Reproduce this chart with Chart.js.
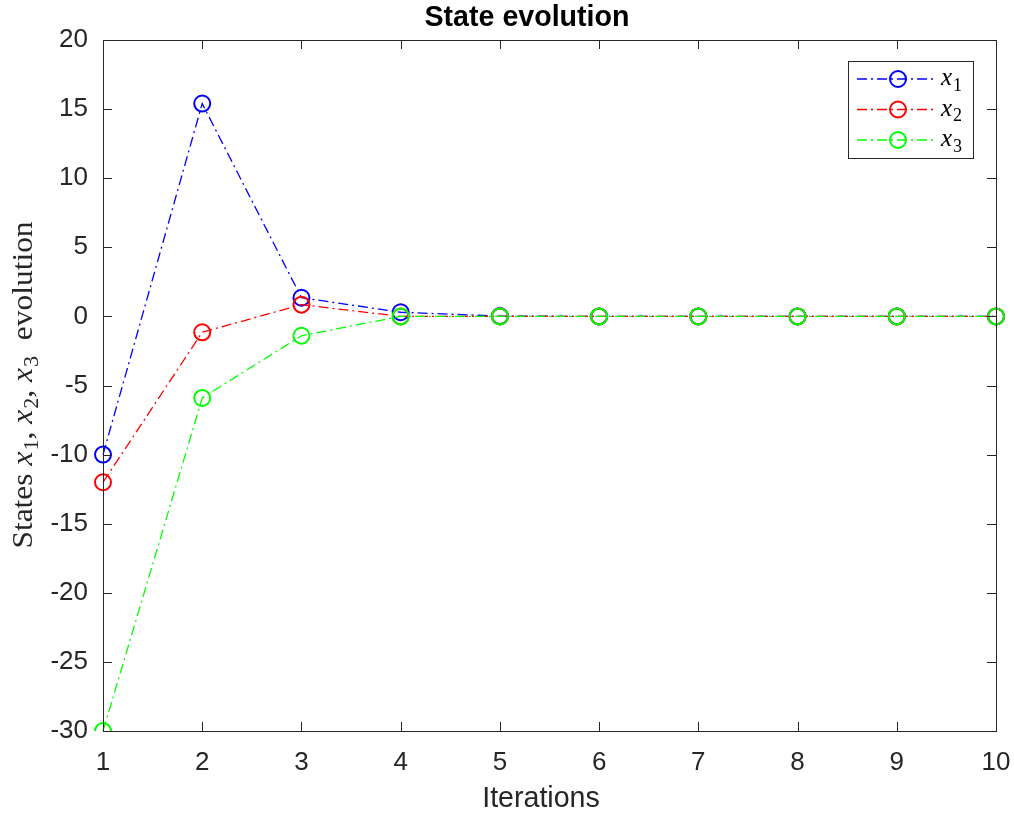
<!DOCTYPE html>
<html lang="en">
<head>
  <meta charset="UTF-8">
  <title>State evolution</title>
  <script src="https://cdn.jsdelivr.net/npm/chart.js@4/dist/chart.umd.min.js"></script>
  <style>
  html, body { margin: 0; padding: 0; background: #fff; }
  #wrap { width: 1014px; height: 814px; }
  </style>
</head>
<body>
<div id="wrap"><canvas id="myChart"></canvas></div>
<script>
    // values
    const iterations = ['1', '2', '3', '4', '5', '6', '7', '8', '9', '10'];
    const x1Values = [-10, 15.4, 1.35, 0.3, 0.02, 0, 0, 0, 0, 0];
    const x2Values = [-12, -1.15, 0.85, 0, 0, 0, 0, 0, 0, 0];
    const x3Values = [-30, -5.9, -1.4, 0, 0, 0, 0, 0, 0, 0];
    const seriesNames = ['1', '2', '3'];   // subscripts of x
    const seriesColors = ['#0000ff', '#ff0000', '#00ff00'];

    const AXIS_COLOR = '#262626';
    const DASH = [10, 4, 2, 4];
    const TICK_LEN = 9;
    const SERIF = '"Liberation Serif"';

    function setMathFont(ctx, style, size) {
      if (style === 'it') ctx.font = 'italic ' + size + 'px ' + SERIF;
      else if (style === 'sub') ctx.font = Math.round(size * 0.7) + 'px ' + SERIF;
      else ctx.font = size + 'px ' + SERIF;
    }
    function mathWidth(ctx, parts, size) {
      ctx.save();
      let w = 0;
      parts.forEach(p => { setMathFont(ctx, p.style, size); w += ctx.measureText(p.t).width + (p.style === 'it' ? 1 : 0); });
      ctx.restore();
      return w;
    }
    function drawMath(ctx, parts, x, y, size) {
      let cx = x;
      parts.forEach(p => {
        setMathFont(ctx, p.style, size);
        ctx.fillText(p.t, cx, p.style === 'sub' ? y + size * 0.22 : y);
        cx += ctx.measureText(p.t).width + (p.style === 'it' ? 1 : 0);
      });
    }

    const matlab_axes = {
      id: 'matlab_axes',
      afterDraw: (chart) => {
        const ctx = chart.ctx;
        const {left, right, top, bottom} = chart.chartArea;
        const xs = chart.scales.x, ys = chart.scales.y;
        ctx.save();
        ctx.strokeStyle = AXIS_COLOR;
        ctx.lineWidth = 1;
        ctx.setLineDash([]);
        ctx.strokeRect(Math.round(left) + 0.5, Math.round(top) + 0.5,
                       Math.round(right - left), Math.round(bottom - top));
        ctx.beginPath();
        xs.ticks.forEach((t, i) => {
          const px = Math.round(xs.getPixelForTick(i)) + 0.5;
          ctx.moveTo(px, bottom); ctx.lineTo(px, bottom - TICK_LEN);
          ctx.moveTo(px, top); ctx.lineTo(px, top + TICK_LEN);
        });
        ys.ticks.forEach((t, i) => {
          const py = Math.round(ys.getPixelForTick(i)) + 0.5;
          ctx.moveTo(left, py); ctx.lineTo(left + TICK_LEN, py);
          ctx.moveTo(right, py); ctx.lineTo(right - TICK_LEN, py);
        });
        ctx.stroke();

        // title
        ctx.fillStyle = '#000';
        ctx.font = 'bold 28.6px "Liberation Sans"';
        ctx.textAlign = 'center';
        ctx.textBaseline = 'alphabetic';
        ctx.fillText('State evolution', 527, 26);

        // x axis title
        ctx.fillStyle = AXIS_COLOR;
        ctx.font = '28.6px "Liberation Sans"';
        ctx.fillText('Iterations', 541, 807);

        // y axis title (LaTeX style, stretched a little like Computer Modern)
        const yParts = [
          {t: 'States ', style: 'rm'},
          {t: 'x', style: 'it'}, {t: '1', style: 'sub'}, {t: ', ', style: 'rm'},
          {t: 'x', style: 'it'}, {t: '2', style: 'sub'}, {t: ', ', style: 'rm'},
          {t: 'x', style: 'it'}, {t: '3', style: 'sub'},
          {t: '  evolution', style: 'rm'}
        ];
        ctx.textAlign = 'left';
        const w = mathWidth(ctx, yParts, 28.6);
        ctx.save();
        ctx.translate(32, 385);
        ctx.rotate(-Math.PI / 2);
        ctx.scale(1.1, 1);
        drawMath(ctx, yParts, -w / 2, 0, 28.6);
        ctx.restore();

        // legend box
        const bx = right - 148, by = top + 21, bw = 125, bh = 97;
        ctx.fillStyle = '#fff';
        ctx.fillRect(bx, by, bw, bh);
        ctx.strokeStyle = AXIS_COLOR;
        ctx.lineWidth = 1;
        ctx.strokeRect(Math.round(bx) + 0.5, Math.round(by) + 0.5, bw, bh);
        chart.data.datasets.forEach((ds, i) => {
          const ly = by + 18 + i * 30.5;
          ctx.strokeStyle = ds.borderColor;
          ctx.lineWidth = 1.3;
          ctx.setLineDash(DASH);
          ctx.beginPath();
          ctx.moveTo(bx + 9, ly); ctx.lineTo(bx + 89, ly);
          ctx.stroke();
          ctx.setLineDash([]);
          ctx.lineWidth = 2;
          ctx.beginPath();
          ctx.arc(bx + 50, ly, 8, 0, Math.PI * 2);
          ctx.stroke();
          ctx.fillStyle = '#000';
          drawMath(ctx, [{t: 'x', style: 'it'}, {t: seriesNames[i], style: 'sub'}], bx + 93, ly + 6, 25);
        });
        ctx.restore();
      }
    };

    function makeSet(values, color, order) {
      return {
        data: values,
        borderColor: color,
        backgroundColor: 'rgba(0,0,0,0)',
        borderWidth: 1.3,
        borderDash: DASH,
        pointRadius: 8,
        pointBorderWidth: 2,
        pointBorderColor: color,
        pointBackgroundColor: 'rgba(0,0,0,0)',
        tension: 0,
        order: order
      };
    }

    const myChart = new Chart(document.getElementById('myChart'), {
      type: 'line',
      data: {
        labels: iterations,
        datasets: [
          makeSet(x1Values, seriesColors[0], 3),
          makeSet(x2Values, seriesColors[1], 2),
          makeSet(x3Values, seriesColors[2], 1)
        ]
      },
      options: {
        responsive: true,
        maintainAspectRatio: false,
        animation: false,
        layout: {
          autoPadding: false,
          padding: {left: 0, right: 18, top: 40, bottom: 0}
        },
        scales: {
          x: {
            type: 'category',
            offset: false,
            grid: {display: false, drawTicks: false},
            border: {display: false},
            ticks: {color: AXIS_COLOR, font: {family: 'Liberation Sans', size: 26}, padding: 16, maxRotation: 0, autoSkip: false},
            afterFit: (s) => {
              s.height = 83;
              s.paddingLeft = 0;
              s.paddingRight = 0;
              s.width = s.chart.width - 103 - 18;
            }
          },
          y: {
            min: -30,
            max: 20,
            grid: {display: false, drawTicks: false},
            border: {display: false},
            ticks: {stepSize: 5, color: AXIS_COLOR, font: {family: 'Liberation Sans', size: 26}, padding: 15},
            afterFit: (s) => { s.width = 103; }
          }
        },
        plugins: {
          legend: {display: false},
          title: {display: false},
          tooltip: {enabled: false}
        }
      },
      plugins: [matlab_axes]
    });
</script>
</body>
</html>
